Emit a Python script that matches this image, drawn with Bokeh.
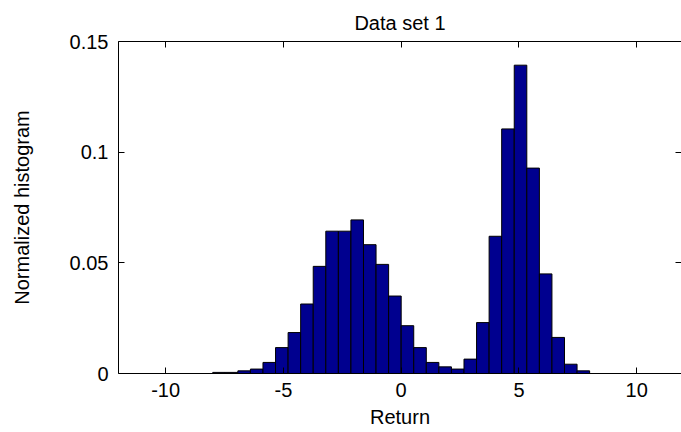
import numpy as np
from bokeh.plotting import figure
from bokeh.models import (ColumnDataSource, FixedTicker, LinearAxis, Range1d,
                          CustomJSTickFormatter)
from bokeh.embed import file_html
from bokeh.resources import INLINE

# Histogram data: 30 equal bins over [-8, 8]
title_text = "Data set 1"
x_label = "Return"
y_label = "Normalized histogram"
bin_min, bin_max = -8.0, 8.0
freq = [0.0005, 0.0005, 0.0012, 0.0020, 0.0050, 0.0117, 0.0185, 0.0314,
        0.0484, 0.0643, 0.0643, 0.0694, 0.0582, 0.0493, 0.0350, 0.0216,
        0.0117, 0.0050, 0.0030, 0.0020, 0.0065, 0.0230, 0.0620, 0.1105,
        0.1393, 0.0928, 0.0450, 0.0163, 0.0042, 0.0012]
x_ticks = [-10, -5, 0, 5, 10]
y_ticks = [0, 0.05, 0.1, 0.15]

edges = np.linspace(bin_min, bin_max, len(freq) + 1)
src = ColumnDataSource(dict(left=edges[:-1], right=edges[1:],
                            top=freq, bottom=[0.0] * len(freq)))

FONT = "Liberation Sans"
FS = "20px"

p = figure(width=681, height=432, title=title_text,
           x_range=Range1d(-12, 11.9), y_range=Range1d(0, 0.15),
           output_backend="svg", toolbar_location=None,
           min_border_left=118, min_border_right=0,
           min_border_top=41, min_border_bottom=59)
p.grid.visible = False
p.outline_line_color = None
p.background_fill_color = "white"
p.border_fill_color = "white"

p.title.align = "center"
p.title.offset = -5
p.title.standoff = 16
p.title.text_font = FONT
p.title.text_font_size = FS
p.title.text_font_style = "normal"
p.title.text_color = "black"

p.quad(left="left", right="right", top="top", bottom="bottom", source=src,
       fill_color="#00008F", line_color="black", line_width=1)

# extra axes on top and right carry inward ticks only
p.add_layout(LinearAxis(), "above")
p.add_layout(LinearAxis(), "right")

plain_fmt = CustomJSTickFormatter(code="return tick.toString();")
blank_fmt = CustomJSTickFormatter(code="return '';")

for ax in p.xaxis:
    ax.ticker = FixedTicker(ticks=x_ticks)
for ax in p.yaxis:
    ax.ticker = FixedTicker(ticks=y_ticks)

for ax in list(p.xaxis) + list(p.yaxis):
    ax.formatter = plain_fmt
    ax.major_tick_in = 6
    ax.major_tick_out = 0
    ax.minor_tick_in = 0
    ax.minor_tick_out = 0
    ax.major_tick_line_color = "black"
    ax.axis_line_color = "black"
    ax.major_label_text_font = FONT
    ax.major_label_text_font_size = FS
    ax.major_label_text_color = "black"
    ax.axis_label_text_font = FONT
    ax.axis_label_text_font_size = FS
    ax.axis_label_text_font_style = "normal"
    ax.axis_label_text_color = "black"

bottom = p.below[0]
bottom.axis_label = x_label
bottom.major_label_standoff = 9
bottom.axis_label_standoff = 6

left = p.left[0]
left.axis_label = y_label
left.major_label_standoff = 10
left.axis_label_standoff = 34

for ax in (p.above[0], p.right[0]):
    ax.formatter = blank_fmt
    ax.major_label_standoff = 0
p.right[0].axis_line_color = None

open("out.html", "w").write(file_html(p, INLINE))
